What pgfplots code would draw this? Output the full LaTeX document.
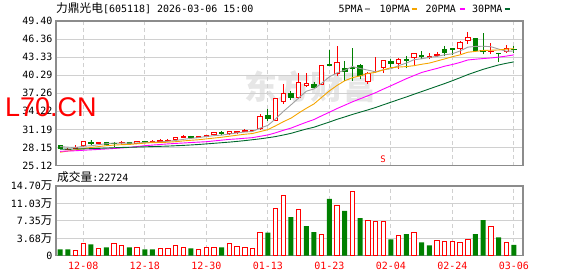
\documentclass[border=0pt]{standalone}
\usepackage{pgfplots}
\pgfplotsset{compat=1.18}
\usepackage{pgfplotstable}
\usepgfplotslibrary{statistics}
\usepackage{fontspec}
\setmainfont{DejaVu Sans Mono}
\newfontfamily\cjk{Noto Sans CJK SC}
\newfontfamily\arial{Liberation Sans}
\definecolor{upred}{RGB}{255,0,0}
\definecolor{dngreen}{RGB}{0,128,0}
\definecolor{maA}{RGB}{160,160,160}
\definecolor{maB}{RGB}{245,165,0}
\definecolor{maC}{RGB}{255,0,255}
\definecolor{maD}{RGB}{0,105,45}
\definecolor{gridc}{RGB}{208,208,208}
\definecolor{framec}{RGB}{140,140,140}
\definecolor{wmark}{RGB}{230,230,230}

% candle macros: index, open, high, low, close
\newcommand{\cu}[5]{\addplot[upred, fill=white, line width=0.9pt, boxplot prepared={draw direction=y, draw position=#1, lower whisker=#4, lower quartile=#2, median=#2, upper quartile=#5, upper whisker=#3, box extend=0.58, whisker extend=0}] coordinates {};}
\newcommand{\cd}[5]{\addplot[dngreen, fill=dngreen, line width=0.9pt, boxplot prepared={draw direction=y, draw position=#1, lower whisker=#4, lower quartile=#5, median=#5, upper quartile=#2, upper whisker=#3, box extend=0.58, whisker extend=0}] coordinates {};}
\newcommand{\wan}{{\cjk\fontsize{11.5}{12}\selectfont 万}}

\pgfplotstableread{
i m5 m10 m20 m30
0 28.30 27.35 27.50 27.85
1 28.20 27.55 27.55 27.87
2 28.15 27.75 27.60 27.90
3 28.35 27.95 27.68 27.92
4 28.43 28.15 27.75 27.95
5 28.62 28.30 27.82 28.00
6 28.78 28.45 27.90 28.05
7 28.90 28.55 27.98 28.10
8 28.88 28.62 28.07 28.15
9 28.88 28.66 28.17 28.18
10 28.91 28.77 28.30 28.22
11 28.98 28.88 28.45 28.26
12 29.04 28.97 28.55 28.30
13 29.08 28.98 28.65 28.34
14 29.18 29.03 28.75 28.38
15 29.32 29.12 28.83 28.44
16 29.51 29.25 28.90 28.50
17 29.67 29.36 28.98 28.57
18 29.81 29.45 29.05 28.65
19 29.99 29.59 29.12 28.75
20 30.14 29.73 29.25 28.85
21 30.23 29.87 29.38 28.95
22 30.41 30.04 29.51 29.05
23 30.60 30.21 29.59 29.17
24 30.75 30.37 29.70 29.30
25 30.83 30.49 29.80 29.45
26 31.41 30.82 30.03 29.60
27 31.86 31.14 30.25 29.78
28 32.95 31.78 30.61 29.98
29 34.19 32.47 31.03 30.24
30 35.30 33.07 31.40 30.52
31 36.44 33.93 31.90 30.89
32 37.60 34.73 32.39 31.25
33 37.99 35.47 32.84 31.55
34 38.94 36.57 33.47 31.99
35 40.02 37.66 34.07 32.42
36 40.69 38.57 34.69 32.88
37 41.12 39.36 35.25 33.28
38 41.75 39.87 35.82 33.70
39 41.42 40.18 36.33 34.08
40 41.15 40.59 36.83 34.46
41 40.87 40.78 37.35 34.86
42 41.21 41.17 37.95 35.31
43 41.37 41.56 38.52 35.75
44 41.90 41.66 39.11 36.20
45 42.32 41.74 39.70 36.63
46 42.90 41.89 40.23 37.09
47 43.05 42.13 40.75 37.54
48 43.28 42.33 41.10 37.99
49 43.45 42.68 41.43 38.44
50 43.73 43.03 41.81 38.89
51 43.89 43.40 42.09 39.37
52 44.37 43.71 42.44 39.87
53 45.01 44.15 42.85 40.39
54 45.13 44.29 42.98 40.84
55 45.16 44.45 43.09 41.28
56 45.08 44.49 43.19 41.65
57 44.69 44.53 43.33 42.01
58 44.32 44.67 43.50 42.29
59 44.36 44.75 43.71 42.53
}\matable

\pgfplotstableread{
i v
2 1.00
3 2.50
5 1.43
7 2.50
8 2.07
10 1.64
13 1.43
14 1.43
15 2.07
16 1.71
18 1.21
19 1.64
20 1.64
22 2.50
23 1.86
24 1.71
25 1.50
26 4.86
28 10.00
29 12.80
31 9.64
34 4.43
36 10.64
38 13.64
40 7.43
41 7.21
42 7.21
44 4.21
46 4.86
49 3.14
50 2.93
51 2.93
52 2.71
53 3.36
56 6.14
58 2.71
}\volup

\pgfplotstableread{
i v
0 1.29
1 1.29
4 2.36
6 1.71
9 1.71
11 1.29
12 1.29
17 1.50
21 1.71
27 4.86
30 8.14
32 6.21
33 4.93
35 12.00
37 9.43
39 7.93
43 3.43
45 4.50
47 2.79
48 2.14
54 4.50
55 7.50
57 3.86
59 2.27
}\voldn

\begin{document}
\begin{tikzpicture}[x=1pt,y=1pt]
\useasboundingbox (0,0) rectangle (578,276);
% watermark
\node[text=wmark, font={\cjk\bfseries\fontsize{33}{33}\selectfont}, inner sep=0] at (310,189) {东方财富};

\begin{axis}[
  at={(56pt,110.5pt)}, anchor=south west,
  width=467pt, height=144.5pt, scale only axis,
  xmin=-0.546, xmax=60.18, ymin=25.12, ymax=49.40,
  xtick={3,11,19,27,35,43,51,59}, xticklabels={},
  ytick={25.12,28.155,31.19,34.225,37.26,40.295,43.33,46.365,49.40},
  yticklabels={25.12,28.15,31.19,34.22,37.26,40.29,43.33,46.36,49.40},
  major tick length=0pt,
  xmajorgrids, ymajorgrids,
  x grid style={gridc, dash pattern=on 4pt off 3pt, line width=0.9pt},
  y grid style={gridc, line width=0.9pt},
  axis line style={framec, line width=1.2pt},
  yticklabel style={font=\fontsize{10}{12}\selectfont, text=black},
]
\cd{0}{28.50}{28.60}{28.00}{28.05}
\cu{1}{27.85}{28.05}{27.70}{27.90}
\cu{2}{28.05}{28.50}{27.95}{28.20}
\cu{3}{28.45}{29.25}{28.40}{29.15}
\cd{4}{29.05}{29.40}{28.55}{28.85}
\cu{5}{28.85}{29.15}{28.70}{29.00}
\cd{6}{29.00}{29.10}{28.60}{28.70}
\cd{7}{28.85}{29.00}{28.30}{28.80}
\cu{8}{28.95}{29.30}{28.65}{29.05}
\cd{9}{28.95}{29.10}{28.60}{28.85}
\cu{10}{28.90}{29.25}{28.80}{29.15}
\cd{11}{29.10}{29.30}{28.85}{29.05}
\cu{12}{29.05}{29.35}{28.95}{29.10}
\cu{13}{29.10}{29.50}{29.00}{29.25}
\cu{14}{29.25}{29.55}{29.10}{29.35}
\cu{15}{29.45}{29.90}{29.40}{29.85}
\cu{16}{29.90}{30.20}{29.75}{30.00}
\cd{17}{30.05}{30.15}{29.80}{29.90}
\cu{18}{29.90}{30.05}{29.80}{29.95}
\cu{19}{30.00}{30.30}{29.90}{30.25}
\cu{20}{30.30}{30.70}{30.20}{30.60}
\cd{21}{30.75}{30.85}{30.35}{30.45}
\cu{22}{30.45}{30.90}{30.40}{30.80}
\cu{23}{30.60}{31.00}{30.50}{30.90}
\cu{24}{30.90}{31.20}{30.85}{31.00}
\cu{25}{30.95}{31.15}{30.85}{31.00}
\cu{26}{31.30}{33.75}{31.20}{33.35}
\cd{27}{33.45}{34.60}{32.60}{33.05}
\cu{28}{32.75}{36.45}{32.60}{36.35}
\cu{29}{35.95}{38.75}{35.40}{37.20}
\cd{30}{37.20}{37.65}{36.10}{36.55}
\cu{31}{36.55}{40.60}{36.35}{39.05}
\cu{32}{38.55}{40.60}{38.35}{38.85}
\cd{33}{38.70}{39.20}{38.05}{38.30}
\cu{34}{38.75}{42.05}{38.60}{41.95}
\cd{35}{42.05}{44.47}{41.85}{41.95}
\cu{36}{40.60}{45.20}{40.16}{42.40}
\cd{37}{41.40}{42.68}{39.33}{41.00}
\cd{38}{41.55}{44.80}{39.33}{41.45}
\cd{39}{41.95}{42.10}{39.60}{40.30}
\cu{40}{39.20}{40.80}{38.77}{40.60}
\cu{41}{40.85}{43.40}{40.75}{41.00}
\cu{42}{41.55}{42.85}{40.60}{42.70}
\cd{43}{42.55}{42.95}{41.50}{42.25}
\cu{44}{42.30}{43.25}{41.30}{42.95}
\cd{45}{42.95}{43.52}{41.45}{42.70}
\cu{46}{43.35}{44.08}{41.95}{43.90}
\cd{47}{43.65}{44.35}{43.07}{43.45}
\cu{48}{43.30}{43.97}{42.96}{43.40}
\cu{49}{43.55}{44.19}{43.40}{43.80}
\cd{50}{44.65}{45.20}{43.50}{44.10}
\cd{51}{44.75}{44.92}{43.63}{44.70}
\cu{52}{44.75}{46.00}{43.80}{45.85}
\cu{53}{46.05}{47.50}{45.47}{46.60}
\cd{54}{46.40}{46.45}{44.30}{44.40}
\cd{55}{44.40}{47.30}{43.80}{44.25}
\cu{56}{44.20}{45.75}{43.80}{44.30}
\cd{57}{43.95}{44.08}{42.50}{43.90}
\cu{58}{44.20}{45.30}{44.08}{44.75}
\cd{59}{44.70}{45.20}{43.97}{44.60}
\addplot[maA, line width=0.9pt] table[x=i, y=m5] {\matable};
\addplot[maB, line width=0.9pt] table[x=i, y=m10] {\matable};
\addplot[maC, line width=0.9pt] table[x=i, y=m20] {\matable};
\addplot[maD, line width=0.9pt] table[x=i, y=m30] {\matable};
\node[text=upred, font=\fontsize{9}{9}\selectfont, inner sep=0] at (axis cs:42,26.25) {S};
\fill[upred] (axis cs:42,27.05) ++(-2pt,0) -- ++(4pt,0) -- ++(-2pt,2.5pt) -- cycle;
\end{axis}

\begin{axis}[
  at={(56pt,20.5pt)}, anchor=south west,
  width=467pt, height=69.5pt, scale only axis,
  xmin=-0.546, xmax=60.18, ymin=0, ymax=14.70,
  xtick={3,11,19,27,35,43,51,59},
  xticklabels={12-08,12-18,12-30,01-13,01-23,02-04,02-24,03-06},
  ytick={0,3.675,7.35,11.025,14.70},
  yticklabels={0,3.68\wan,7.35\wan,11.03\wan,14.70\wan},
  major tick length=0pt,
  xmajorgrids, ymajorgrids,
  x grid style={gridc, dash pattern=on 4pt off 3pt, line width=0.9pt},
  y grid style={gridc, line width=0.9pt},
  axis line style={framec, line width=1.2pt},
  yticklabel style={font=\fontsize{10}{12}\selectfont, text=black},
  xticklabel style={font=\fontsize{10}{12}\selectfont, text=upred, yshift=-3pt},
  ybar,
]
\addplot[ybar, bar shift=0pt, bar width=5pt, fill=dngreen, draw=none] table[x=i, y=v] {\voldn};
\addplot[ybar, bar shift=0pt, bar width=4.4pt, fill=white, draw=upred, line width=0.9pt] table[x=i, y=v] {\volup};
\end{axis}

% title, legend, labels
\node[anchor=base west, inner sep=0, font=\fontsize{10}{12}\selectfont] at (56,263.5) {{\cjk\fontsize{11.7}{12}\selectfont 力鼎光电}[605118] 2026-03-06 15:00};
\node[anchor=base west, inner sep=0, font=\fontsize{10}{12}\selectfont] at (338.5,263.5) {5PMA};
\draw[maA, line width=2pt] (364.5,266.7) -- (370,266.7);
\node[anchor=base west, inner sep=0, font=\fontsize{10}{12}\selectfont] at (379.5,263.5) {10PMA};
\draw[maB, line width=2pt] (411.5,266.7) -- (417,266.7);
\node[anchor=base west, inner sep=0, font=\fontsize{10}{12}\selectfont] at (425.5,263.5) {20PMA};
\draw[maC, line width=2pt] (459.5,266.7) -- (465,266.7);
\node[anchor=base west, inner sep=0, font=\fontsize{10}{12}\selectfont] at (472,263.5) {30PMA};
\draw[maD, line width=2pt] (504.5,266.7) -- (510,266.7);
\node[anchor=base west, inner sep=0, font=\fontsize{10}{12}\selectfont] at (57,95) {{\cjk\fontsize{11.7}{12}\selectfont 成交量}:22724};
\node[anchor=base west, inner sep=0, text=upred, font={\arial\fontsize{27}{27}\selectfont}] at (5,159.3) {L70.CN};
\end{tikzpicture}
\end{document}
